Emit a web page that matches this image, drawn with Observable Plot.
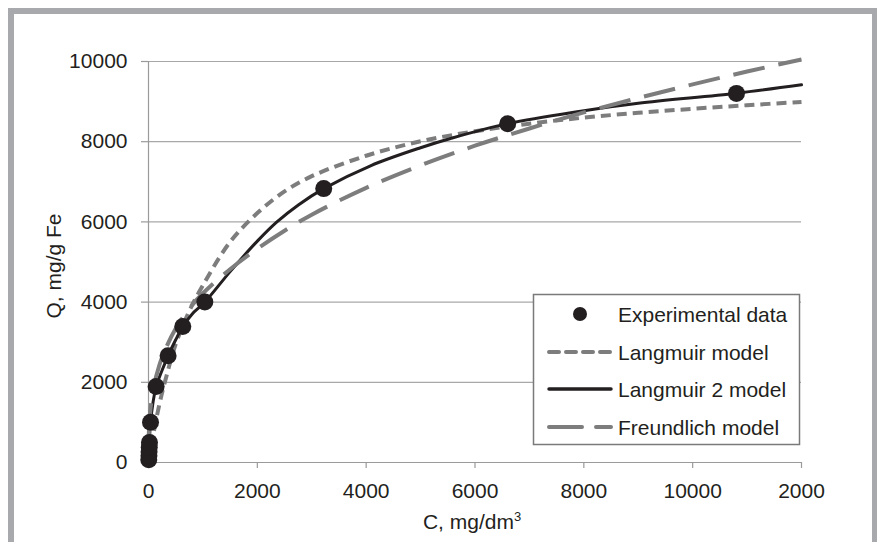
<!DOCTYPE html>
<html>
<head>
<meta charset="utf-8">
<script src="https://cdn.jsdelivr.net/npm/d3@7"></script>
<script src="https://cdn.jsdelivr.net/npm/@observablehq/plot@0.6"></script>
<style>
  html, body { margin: 0; padding: 0; background: #fff; }
  #wrap { position: relative; width: 877px; height: 542px; overflow: hidden; font-family: "Liberation Sans", Arial, sans-serif; color: #231f20; }
  #frame { position: absolute; left: 8px; top: 8px; width: 870px; height: 560px; box-sizing: border-box; border: 6px solid #a7a9ac; pointer-events: none; }
  #chart { position: absolute; left: 0; top: 0; }
  .ttl { position: absolute; font-size: 21px; white-space: nowrap; line-height: 1; }
  #legend { position: absolute; left: 0; top: 0; }
</style>
</head>
<body>
<div id="wrap">
  <div id="chart"></div>
  <div id="frame"></div>
</div>
<script>
// ---- data ----
const xTicks = [0, 2000, 4000, 6000, 8000, 10000, 12000];
const xTickLabels = ["0", "2000", "4000", "6000", "8000", "10000", "2000"];
const yTicks = [0, 2000, 4000, 6000, 8000, 10000];

const seriesNames = ["Experimental data", "Langmuir model", "Langmuir 2 model", "Freundlich model"];

// Experimental data
const expC = [5, 8, 10, 14, 18, 37, 140, 360, 630, 1035, 3220, 6600, 10805];
const expQ = [70, 170, 270, 380, 500, 1005, 1895, 2660, 3390, 4000, 6830, 8450, 9205];

// Langmuir model (short dashes)
const langC = [0, 50, 100, 200, 300, 500, 750, 1000, 1500, 2000, 2500, 3000, 4000, 5000, 6000, 7000, 8000, 9000, 10000, 11000, 12000];
const langQ = [0, 400, 780, 1450, 2000, 2950, 3780, 4420, 5500, 6220, 6760, 7140, 7650, 8010, 8260, 8450, 8600, 8720, 8820, 8910, 8990];

// Langmuir 2 model (solid)
const lang2C = [5, 18, 37, 140, 250, 360, 500, 630, 800, 1035, 1500, 2000, 2360, 2760, 3220, 4080, 5000, 5550, 6600, 7940, 9000, 10805, 12000];
const lang2Q = [70, 500, 1005, 1895, 2300, 2660, 3060, 3390, 3700, 4000, 4760, 5520, 6000, 6430, 6830, 7400, 7850, 8080, 8450, 8760, 8960, 9210, 9420];

// Freundlich model (long dashes)
const freuC = [5, 20, 50, 100, 200, 300, 500, 750, 1000, 1500, 2000, 2500, 3000, 4000, 5000, 6000, 7000, 8000, 9000, 10000, 11000, 12000];
const freuQ = [680, 1090, 1500, 1910, 2430, 2790, 3340, 3840, 4220, 4820, 5330, 5780, 6180, 6850, 7410, 7900, 8330, 8730, 9090, 9430, 9750, 10050];

const toRows = (cs, qs) => cs.map((c, i) => ({c, q: qs[i]}));
const expData = toRows(expC, expQ);
const langData = toRows(langC, langQ);
const lang2Data = toRows(lang2C, lang2Q);
const freuData = toRows(freuC, freuQ);

const axisGray = "#9a9a9a";
const gridGray = "#a8a8a8";
const dark = "#231f20";
const dashGray = "#7d7d7d";

const chart = Plot.plot({
  width: 877,
  height: 542,
  marginLeft: 148,
  marginRight: 76,
  marginTop: 61,
  marginBottom: 80,
  style: { fontFamily: "'Liberation Sans', Arial, sans-serif", fontSize: "21px", color: dark, background: "transparent", overflow: "visible" },
  x: { domain: [0, 12000], label: null },
  y: { domain: [0, 10000], label: null },
  marks: [
    Plot.gridY(yTicks, { stroke: gridGray, strokeOpacity: 1, strokeWidth: 1.2 }),
    Plot.ruleX([0], { stroke: axisGray, strokeWidth: 1.2 }),
    Plot.ruleY([0], { stroke: axisGray, strokeWidth: 1.2 }),
    Plot.axisY(yTicks, { tickSize: 7, tickPadding: 14, stroke: axisGray, strokeWidth: 1.2, tickFormat: d => String(d), label: null }),
    Plot.axisX(xTicks, { tickSize: 6, tickPadding: 15, stroke: axisGray, strokeWidth: 1.2, tickFormat: d => xTickLabels[xTicks.indexOf(d)], label: null }),
    Plot.line(langData, { x: "c", y: "q", stroke: dashGray, strokeWidth: 4, strokeDasharray: "10,6", strokeLinecap: "butt", curve: "catmull-rom" }),
    Plot.line(lang2Data, { x: "c", y: "q", stroke: dark, strokeWidth: 3, curve: "catmull-rom" }),
    Plot.line(freuData, { x: "c", y: "q", stroke: dashGray, strokeWidth: 4, strokeDasharray: "32,14", strokeLinecap: "butt", curve: "catmull-rom" }),
    Plot.dot(expData, { x: "c", y: "q", r: 8.5, fill: dark, stroke: "none" })
  ]
});
document.getElementById("chart").appendChild(chart);

const wrap = document.getElementById("wrap");

// axis titles
const yt = document.createElement("div");
yt.className = "ttl";
yt.textContent = "Q, mg/g Fe";
yt.style.left = "53px";
yt.style.top = "266px";
yt.style.transform = "translate(-50%, -50%) rotate(-90deg)";
wrap.appendChild(yt);

const xt = document.createElement("div");
xt.className = "ttl";
xt.innerHTML = "C, mg/dm<span style='font-size:13px;vertical-align:8px'>3</span>";
xt.style.left = "472px";
xt.style.top = "510px";
xt.style.transform = "translateX(-50%)";
wrap.appendChild(xt);

// legend
const ns = "http://www.w3.org/2000/svg";
const lg = document.createElementNS(ns, "svg");
lg.setAttribute("id", "legend");
lg.setAttribute("width", 877);
lg.setAttribute("height", 542);
lg.style.position = "absolute";
lg.style.left = "0px";
lg.style.top = "0px";
const bx = 533.5, by = 294.5, bw = 266, bh = 150;
const rect = document.createElementNS(ns, "rect");
rect.setAttribute("x", bx); rect.setAttribute("y", by);
rect.setAttribute("width", bw); rect.setAttribute("height", bh);
rect.setAttribute("fill", "#fff"); rect.setAttribute("stroke", "#7a7a7a"); rect.setAttribute("stroke-width", 1.5);
lg.appendChild(rect);
const rowY = [314, 352, 389, 427];
const styles = [
  { type: "dot" },
  { type: "line", stroke: dashGray, w: 4, dash: "10,7" },
  { type: "line", stroke: dark, w: 3.5, dash: null },
  { type: "line", stroke: dashGray, w: 4, dash: "33,14" }
];
seriesNames.forEach((name, i) => {
  const y = rowY[i];
  const s = styles[i];
  if (s.type === "dot") {
    const c = document.createElementNS(ns, "circle");
    c.setAttribute("cx", 580); c.setAttribute("cy", y); c.setAttribute("r", 7);
    c.setAttribute("fill", dark);
    lg.appendChild(c);
  } else {
    const l = document.createElementNS(ns, "line");
    l.setAttribute("x1", 549); l.setAttribute("x2", 611);
    l.setAttribute("y1", y); l.setAttribute("y2", y);
    l.setAttribute("stroke", s.stroke); l.setAttribute("stroke-width", s.w);
    l.setAttribute("stroke-linecap", "round");
    if (s.dash) l.setAttribute("stroke-dasharray", s.dash);
    lg.appendChild(l);
  }
  const t = document.createElementNS(ns, "text");
  t.setAttribute("x", 618); t.setAttribute("y", y);
  t.setAttribute("dy", "0.36em");
  t.setAttribute("font-size", 21);
  t.setAttribute("font-family", "'Liberation Sans', Arial, sans-serif");
  t.setAttribute("fill", dark);
  t.textContent = name;
  lg.appendChild(t);
});
wrap.appendChild(lg);
</script>
</body>
</html>
